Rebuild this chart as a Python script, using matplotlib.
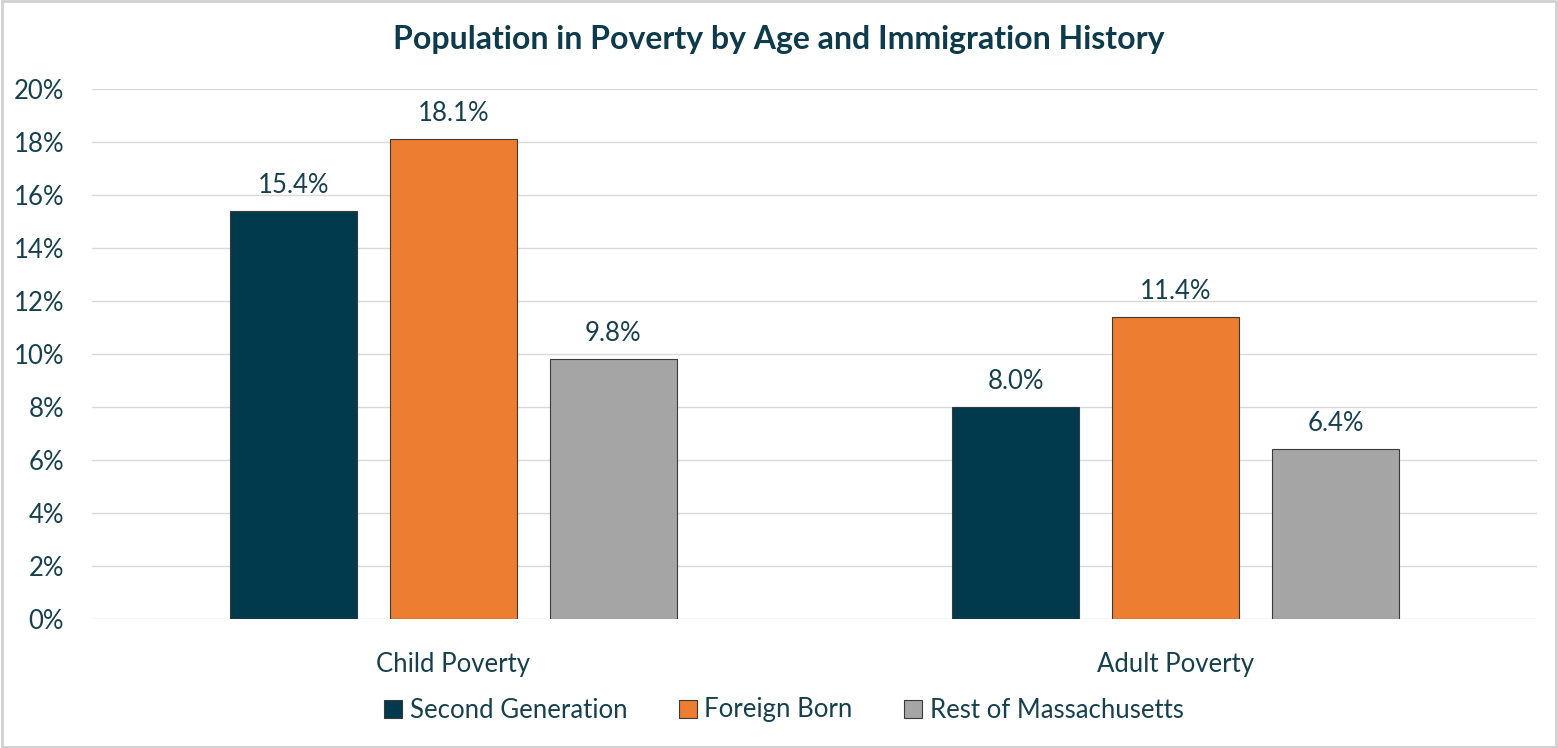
import numpy as np
import matplotlib.pyplot as plt
from matplotlib.patches import Rectangle

categories = ["Child Poverty", "Adult Poverty"]
series = ["Second Generation", "Foreign Born", "Rest of Massachusetts"]
second_gen = [15.4, 8.0]
foreign_born = [18.1, 11.4]
rest_ma = [9.8, 6.4]
yticks = [0, 2, 4, 6, 8, 10, 12, 14, 16, 18, 20]

colors = ["#023A4D", "#ED7D31", "#A5A5A5"]
txt = "#17404F"

plt.rcParams['font.family'] = ['Lato', 'DejaVu Sans']

fig = plt.figure(figsize=(15.58, 7.48), dpi=100)
ax = fig.add_axes([92/1558, 1-619/748, 1445/1558, 530/748])

x = np.arange(len(categories))
w = 0.176
step = 0.2215
for i, (vals, name) in enumerate(zip([second_gen, foreign_born, rest_ma], series)):
    bars = ax.bar(x + (i - 1) * step, vals, width=w, color=colors[i],
                  edgecolor="#3A3A3A", linewidth=0.8, label=name, zorder=3)
    for b, v in zip(bars, vals):
        ax.text(b.get_x() + b.get_width() / 2, v + 0.5, f"{v:.1f}%",
                ha="center", va="bottom", fontsize=18.5, color=txt)

ax.set_xlim(-0.5, 1.5)
ax.set_ylim(0, 20)
ax.set_yticks(yticks)
ax.set_yticklabels([f"{t}%" for t in yticks], fontsize=18.5, color=txt)
ax.set_xticks(x)
ax.set_xticklabels(categories, fontsize=18.5, color=txt)
ax.tick_params(axis="both", length=0)
ax.tick_params(axis="y", pad=20)
ax.tick_params(axis="x", pad=24)
ax.grid(axis="y", color="#D9D9D9", linewidth=1, zorder=0)
for s in ["top", "right", "left", "bottom"]:
    ax.spines[s].set_visible(False)

fig.text(779/1558, 1-40/748, "Population in Poverty by Age and Immigration History",
         ha="center", va="center", fontsize=23, fontweight="bold", color="#0E3B4C")

fig.legend(loc="center", bbox_to_anchor=(0.503, 1-710/748), ncol=3, frameon=False,
           fontsize=18.5, handlelength=0.7, handleheight=0.7, handletextpad=0.3,
           columnspacing=2.0, labelcolor=txt)

fig.patches.append(Rectangle((0.0015, 0.002), 0.997, 0.996, transform=fig.transFigure,
                             fill=False, edgecolor="#D0D0D0", linewidth=2))

fig.savefig("out.png", dpi=100)
